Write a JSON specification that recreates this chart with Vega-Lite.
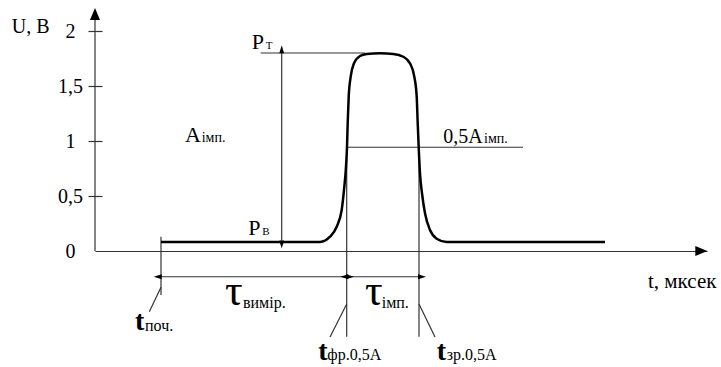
{
  "$schema": "https://vega.github.io/schema/vega-lite/v6.json",
  "autosize": {"type": "none"},
  "width": 612,
  "height": 242,
  "padding": {"left": 95, "top": 9, "right": 14, "bottom": 116},
  "background": "white",
  "config": {"view": {"stroke": null}},
  "datasets": {
    "signal": [
      {"t": 6.6, "u": 0.082}, {"t": 14.0, "u": 0.082}, {"t": 22.5, "u": 0.082},
      {"t": 23.5, "u": 0.13}, {"t": 24.17, "u": 0.221}, {"t": 24.67, "u": 0.373},
      {"t": 24.9, "u": 0.555}, {"t": 25.1, "u": 0.766}, {"t": 25.2, "u": 0.943},
      {"t": 25.27, "u": 1.164}, {"t": 25.37, "u": 1.403}, {"t": 25.57, "u": 1.585},
      {"t": 25.9, "u": 1.706}, {"t": 26.5, "u": 1.773}, {"t": 27.17, "u": 1.791},
      {"t": 28.5, "u": 1.797}, {"t": 29.83, "u": 1.791}, {"t": 30.83, "u": 1.766},
      {"t": 31.5, "u": 1.706}, {"t": 31.93, "u": 1.585}, {"t": 32.17, "u": 1.403},
      {"t": 32.27, "u": 1.164}, {"t": 32.37, "u": 0.943}, {"t": 32.5, "u": 0.706},
      {"t": 32.7, "u": 0.525}, {"t": 33.0, "u": 0.343}, {"t": 33.5, "u": 0.191},
      {"t": 34.17, "u": 0.112}, {"t": 35.17, "u": 0.082}, {"t": 43.0, "u": 0.082},
      {"t": 51.0, "u": 0.082}
    ],
    "lines": [
      {"id": "yaxis", "t": 0, "u": 0, "t2": 0, "u2": 2.13},
      {"id": "pt", "t": 16.57, "u": 1.8, "t2": 27.0, "u2": 1.8},
      {"id": "half", "t": 25.17, "u": 0.943, "t2": 42.8, "u2": 0.943},
      {"id": "vfr", "t": 25.17, "u": 0.943, "t2": 25.17, "u2": -0.779},
      {"id": "vzr", "t": 32.4, "u": 0.943, "t2": 32.4, "u2": -0.779},
      {"id": "vpoch", "t": 6.6, "u": 0.13, "t2": 6.6, "u2": -0.4},
      {"id": "dimA", "t": 18.67, "u": 0.095, "t2": 18.67, "u2": 1.8},
      {"id": "dim1", "t": 6.6, "u": -0.234, "t2": 25.17, "u2": -0.234},
      {"id": "dim2", "t": 25.17, "u": -0.234, "t2": 32.4, "u2": -0.234},
      {"id": "lead1", "t": 6.6, "u": -0.33, "t2": 5.43, "u2": -0.552},
      {"id": "lead2", "t": 25.17, "u": -0.482, "t2": 23.5, "u2": -0.782},
      {"id": "lead3", "t": 32.4, "u": -0.482, "t2": 34.0, "u2": -0.782}
    ],
    "arrows": [
      {"t": 18.67, "u": 1.797, "dir": "up", "kind": "dim"},
      {"t": 18.67, "u": 0.095, "dir": "down", "kind": "dim"},
      {"t": 6.67, "u": -0.234, "dir": "left", "kind": "dim"},
      {"t": 25.1, "u": -0.234, "dir": "right", "kind": "dim"},
      {"t": 25.33, "u": -0.234, "dir": "left", "kind": "dim"},
      {"t": 32.3, "u": -0.234, "dir": "right", "kind": "dim"},
      {"t": 61.23, "u": 0, "dir": "right", "kind": "axis"},
      {"t": 0, "u": 2.21, "dir": "up", "kind": "axis"}
    ],
    "labels": [
      {"kind": "main", "text": "U, B", "t": -8.33, "u": 1.979},
      {"kind": "title", "text": "t, мксек", "t": 55.3, "u": -0.339},
      {"kind": "main", "text": "0,5A", "t": 34.83, "u": 0.985},
      {"kind": "big", "text": "P", "t": 15.67, "u": 1.834},
      {"kind": "big", "text": "P", "t": 15.33, "u": 0.145},
      {"kind": "big", "text": "A", "t": 9.0, "u": 0.994},
      {"kind": "psub", "text": "Т", "t": 17.07, "u": 1.834},
      {"kind": "psub", "text": "В", "t": 16.73, "u": 0.145},
      {"kind": "sub", "text": "імп.", "t": 10.67, "u": 0.994},
      {"kind": "sub", "text": "імп.", "t": 38.9, "u": 0.985},
      {"kind": "bsub", "text": "вимір.", "t": 14.8, "u": -0.518},
      {"kind": "bsub", "text": "імп.", "t": 28.67, "u": -0.518},
      {"kind": "bsub", "text": "поч.", "t": 5.0, "u": -0.727},
      {"kind": "bsub", "text": "фр.0,5A", "t": 23.23, "u": -0.991},
      {"kind": "bsub", "text": "зр.0,5A", "t": 35.17, "u": -0.991},
      {"kind": "tlet", "text": "t", "t": 4.0, "u": -0.718},
      {"kind": "tlet", "text": "t", "t": 22.33, "u": -0.991},
      {"kind": "tlet", "text": "t", "t": 34.17, "u": -0.991},
      {"kind": "tau", "text": "τ", "t": 13.0, "u": -0.491},
      {"kind": "tau", "text": "τ", "t": 27.0, "u": -0.491}
    ]
  },
  "encoding": {
    "x": {
      "field": "t", "type": "quantitative",
      "scale": {"domain": [0, 61.2], "nice": false, "zero": false},
      "axis": {"domain": true, "domainColor": "#333", "domainWidth": 1.2, "ticks": false, "labels": false, "grid": false, "title": null}
    },
    "y": {
      "field": "u", "type": "quantitative",
      "scale": {"domain": [0, 2.2], "nice": false, "zero": false},
      "axis": {
        "values": [0, 0.5, 1, 1.5, 2],
        "offset": -7, "tickSize": 14, "tickColor": "#333", "tickWidth": 1.2,
        "tickOpacity": {"condition": {"test": "datum.value === 0", "value": 0}, "value": 1},
        "domain": false, "grid": false, "title": null,
        "labelFont": "Liberation Serif", "labelFontSize": 20, "labelColor": "black",
        "labelAlign": "center", "labelBaseline": "middle", "labelPadding": 18,
        "labelFlush": false, "labelOverlap": false,
        "labelExpr": "replace(format(datum.value, '~g'), '.', ',')"
      }
    }
  },
  "layer": [
    {
      "data": {"name": "lines"},
      "mark": {"type": "rule", "color": "#333", "strokeWidth": 1.2},
      "encoding": {"x2": {"field": "t2"}, "y2": {"field": "u2"}}
    },
    {
      "data": {"name": "signal"},
      "mark": {"type": "line", "color": "black", "strokeWidth": 2.5, "interpolate": "monotone"}
    },
    {
      "data": {"name": "arrows"},
      "transform": [{"filter": "datum.kind === 'dim' && datum.dir === 'up'"}],
      "mark": {"type": "point", "shape": "M0,-1L-0.3,0L0.3,0Z", "filled": true, "color": "black", "opacity": 1, "size": 256, "strokeWidth": 0}
    },
    {
      "data": {"name": "arrows"},
      "transform": [{"filter": "datum.kind === 'dim' && datum.dir === 'down'"}],
      "mark": {"type": "point", "shape": "M0,1L-0.3,0L0.3,0Z", "filled": true, "color": "black", "opacity": 1, "size": 256, "strokeWidth": 0}
    },
    {
      "data": {"name": "arrows"},
      "transform": [{"filter": "datum.kind === 'dim' && datum.dir === 'left'"}],
      "mark": {"type": "point", "shape": "M-1,0L0,-0.3L0,0.3Z", "filled": true, "color": "black", "opacity": 1, "size": 256, "strokeWidth": 0}
    },
    {
      "data": {"name": "arrows"},
      "transform": [{"filter": "datum.kind === 'dim' && datum.dir === 'right'"}],
      "mark": {"type": "point", "shape": "M1,0L0,-0.3L0,0.3Z", "filled": true, "color": "black", "opacity": 1, "size": 256, "strokeWidth": 0}
    },
    {
      "data": {"name": "arrows"},
      "transform": [{"filter": "datum.kind === 'axis' && datum.dir === 'right'"}],
      "mark": {"type": "point", "shape": "M0,0L-1,-0.42L-1,0.42Z", "filled": true, "color": "black", "opacity": 1, "size": 576, "strokeWidth": 0}
    },
    {
      "data": {"name": "arrows"},
      "transform": [{"filter": "datum.kind === 'axis' && datum.dir === 'up'"}],
      "mark": {"type": "point", "shape": "M0,0L-0.42,1L0.42,1Z", "filled": true, "color": "black", "opacity": 1, "size": 576, "strokeWidth": 0}
    },
    {
      "data": {"name": "labels"},
      "transform": [{"filter": "datum.kind === 'main'"}],
      "mark": {"type": "text", "font": "Liberation Serif", "fontSize": 20, "align": "left", "baseline": "alphabetic", "color": "black"},
      "encoding": {"text": {"field": "text"}}
    },
    {
      "data": {"name": "labels"},
      "transform": [{"filter": "datum.kind === 'title'"}],
      "mark": {"type": "text", "font": "Liberation Serif", "fontSize": 21, "align": "left", "baseline": "alphabetic", "color": "black"},
      "encoding": {"text": {"field": "text"}}
    },
    {
      "data": {"name": "labels"},
      "transform": [{"filter": "datum.kind === 'big'"}],
      "mark": {"type": "text", "font": "Liberation Serif", "fontSize": 22, "align": "left", "baseline": "alphabetic", "color": "black"},
      "encoding": {"text": {"field": "text"}}
    },
    {
      "data": {"name": "labels"},
      "transform": [{"filter": "datum.kind === 'psub'"}],
      "mark": {"type": "text", "font": "Liberation Serif", "fontSize": 11, "align": "left", "baseline": "alphabetic", "color": "black"},
      "encoding": {"text": {"field": "text"}}
    },
    {
      "data": {"name": "labels"},
      "transform": [{"filter": "datum.kind === 'sub'"}],
      "mark": {"type": "text", "font": "Liberation Serif", "fontSize": 14, "align": "left", "baseline": "alphabetic", "color": "black"},
      "encoding": {"text": {"field": "text"}}
    },
    {
      "data": {"name": "labels"},
      "transform": [{"filter": "datum.kind === 'bsub'"}],
      "mark": {"type": "text", "font": "Liberation Serif", "fontSize": 16, "align": "left", "baseline": "alphabetic", "color": "black"},
      "encoding": {"text": {"field": "text"}}
    },
    {
      "data": {"name": "labels"},
      "transform": [{"filter": "datum.kind === 'tlet'"}],
      "mark": {"type": "text", "font": "Liberation Serif", "fontSize": 28, "fontWeight": "bold", "align": "left", "baseline": "alphabetic", "color": "black"},
      "encoding": {"text": {"field": "text"}}
    },
    {
      "data": {"name": "labels"},
      "transform": [{"filter": "datum.kind === 'tau'"}],
      "mark": {"type": "text", "font": "Liberation Serif", "fontSize": 44, "align": "left", "baseline": "alphabetic", "color": "black"},
      "encoding": {"text": {"field": "text"}}
    }
  ]
}
